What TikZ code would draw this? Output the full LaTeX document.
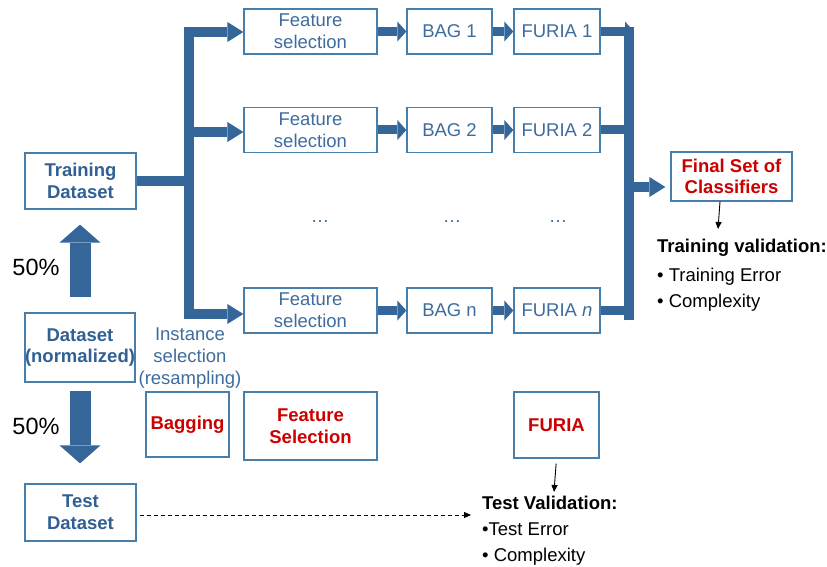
\documentclass[tikz,border=0pt]{standalone}
\usepackage{fontspec}
\setmainfont{Liberation Sans}
\usetikzlibrary{arrows.meta}
\definecolor{busblue}{RGB}{52,102,154}
\definecolor{boxline}{RGB}{72,126,170}
\definecolor{txtblue}{RGB}{62,108,158}
\definecolor{boldblue}{RGB}{48,96,148}
\definecolor{accent}{RGB}{204,0,0}
\begin{document}
\begin{tikzpicture}[x=1pt,y=-1pt,
  every node/.style={font=\fontsize{18.5}{21.7}\selectfont, inner sep=0pt, align=center},
  box/.style={draw=boxline, line width=1.3pt, fill=white, text=txtblue},
  boldbox/.style={box, text=boldblue, font=\fontsize{18.5}{21.7}\selectfont\bfseries},
  redbox/.style={box, text=accent, font=\fontsize{18.5}{21.7}\selectfont\bfseries},
  busline/.style={draw=busblue, line width=10pt},
  bigarrow/.style={draw=busblue, fill=busblue, line width=10pt, -{Triangle[width=20pt,length=16pt,line width=0pt]}},
  rowarrow/.style={draw=busblue, fill=busblue, line width=9pt, -{Triangle[width=20pt,length=9pt,line width=0pt]}},
  splitarrow/.style={draw=busblue, fill=busblue, line width=21pt, -{Triangle[width=41pt,length=18pt,line width=0pt]}},
  thinarrow/.style={draw=black, line width=0.9pt, -{Triangle[width=6pt,length=7pt]}},
  note/.style={anchor=west, text=black},
  notehead/.style={anchor=west, text=black, font=\fontsize{18.5}{21.7}\selectfont\bfseries},
  dots/.style={anchor=base, text=txtblue},
  pct/.style={text=black, font=\fontsize{23.5}{26}\selectfont}]
\useasboundingbox (0,0) rectangle (827,567);

% left column: data split
\node[boldbox, minimum width=111pt, minimum height=56pt] (train) at (80.5,181) {Training\\Dataset};
\node[boldbox, minimum width=110pt, minimum height=69pt] (data) at (80,347.5) {Dataset\\(normalized)};
\node[boldbox, minimum width=111pt, minimum height=57pt] (test) at (80.5,512.5) {Test\\Dataset};
\node[pct] (pup) at (36,267) {50\%};
\node[pct] (pdown) at (36,426) {50\%};

% ensemble rows
\foreach \r/\y/\b/\f in {1/31.5/BAG 1/FURIA 1, 2/130/BAG 2/FURIA 2, n/310.5/BAG n/FURIA \textit{n}}{
  \node[box, minimum width=133pt, minimum height=45pt] (fs\r) at (310.5,\y) {Feature\\selection};
  \node[box, minimum width=85pt, minimum height=45pt] (bag\r) at (449.5,\y) {\b};
  \node[box, minimum width=86pt, minimum height=45pt] (fu\r) at (557,\y) {\f};
}
\node[dots] (d1) at (320,222) {…};
\node[dots] (d2) at (452,222) {…};
\node[dots] (d3) at (558,222) {…};

% method labels
\node[text=txtblue] (inst) at (190,358) {Instance\\selection\\(resampling)};
\node[redbox, minimum width=83pt, minimum height=65pt] (bagging) at (187.5,424.5) {Bagging};
\node[redbox, minimum width=133pt, minimum height=68pt] (featsel) at (310.5,426) {Feature\\Selection};
\node[redbox, minimum width=85pt, minimum height=66pt] (furia) at (556.5,425) {FURIA};

% result and validation
\node[redbox, minimum width=121pt, minimum height=49pt] (final) at (731.5,176.5) {Final Set of\\Classifiers};
\node[notehead] (trv) at (657,248) {Training validation:};
\node[note] (trv1) at (657,277) {• Training Error};
\node[note] (trv2) at (657,303) {• Complexity};
\node[notehead] (tsv) at (482,503) {Test Validation:};
\node[note] (tsv1) at (482,529) {•Test Error};
\node[note] (tsv2) at (482,557) {• Complexity};

% bus junctions
\coordinate (b1) at (189,32);
\coordinate (b2) at (189,132);
\coordinate (bn) at (189,314);
\coordinate (r1) at (629,32);
\coordinate (rn) at (629,315);
\coordinate (rf) at (629,187);
\coordinate (rt) at (634,0);
\coordinate (tvtip) at (718,229);
\coordinate (tstip) at (554,492);
\coordinate (dtip) at (471,515);

% split arrows
\draw[splitarrow, shorten <=15pt, shorten >=15pt] (data.north) -- (data.north |- train.south);
\draw[splitarrow, shorten <=8pt, shorten >=20pt] (data.south) -- (data.south |- test.north);

% left distribution bus
\draw[busline] (train.east) -- (train.east -| b1);
\draw[busline, line cap=rect] (b1) -- (bn);
\foreach \r in {1,2,n}{
  \draw[bigarrow] (b\r) -- (b\r -| fs\r.west);
  \draw[rowarrow] (fs\r.east) -- (bag\r.west);
  \draw[rowarrow] (bag\r.east) -- (fu\r.west);
  \draw[rowarrow] (fu\r.east) -- (fu\r.east -| rt);
}

% right collecting bus
\draw[busline, line cap=rect] (r1) -- (rn);
\draw[bigarrow, shorten >=5pt] (rf) -- (rf -| final.west);

% validation arrows
\draw[thinarrow] ([xshift=-11.5pt]final.south) -- (tvtip);
\draw[thinarrow, shorten <=5pt] (furia.south) -- (tstip);
\draw[thinarrow, dashed, dash pattern=on 4pt off 3pt, shorten <=3pt] (test.east |- dtip) -- (dtip);
\end{tikzpicture}
\end{document}
